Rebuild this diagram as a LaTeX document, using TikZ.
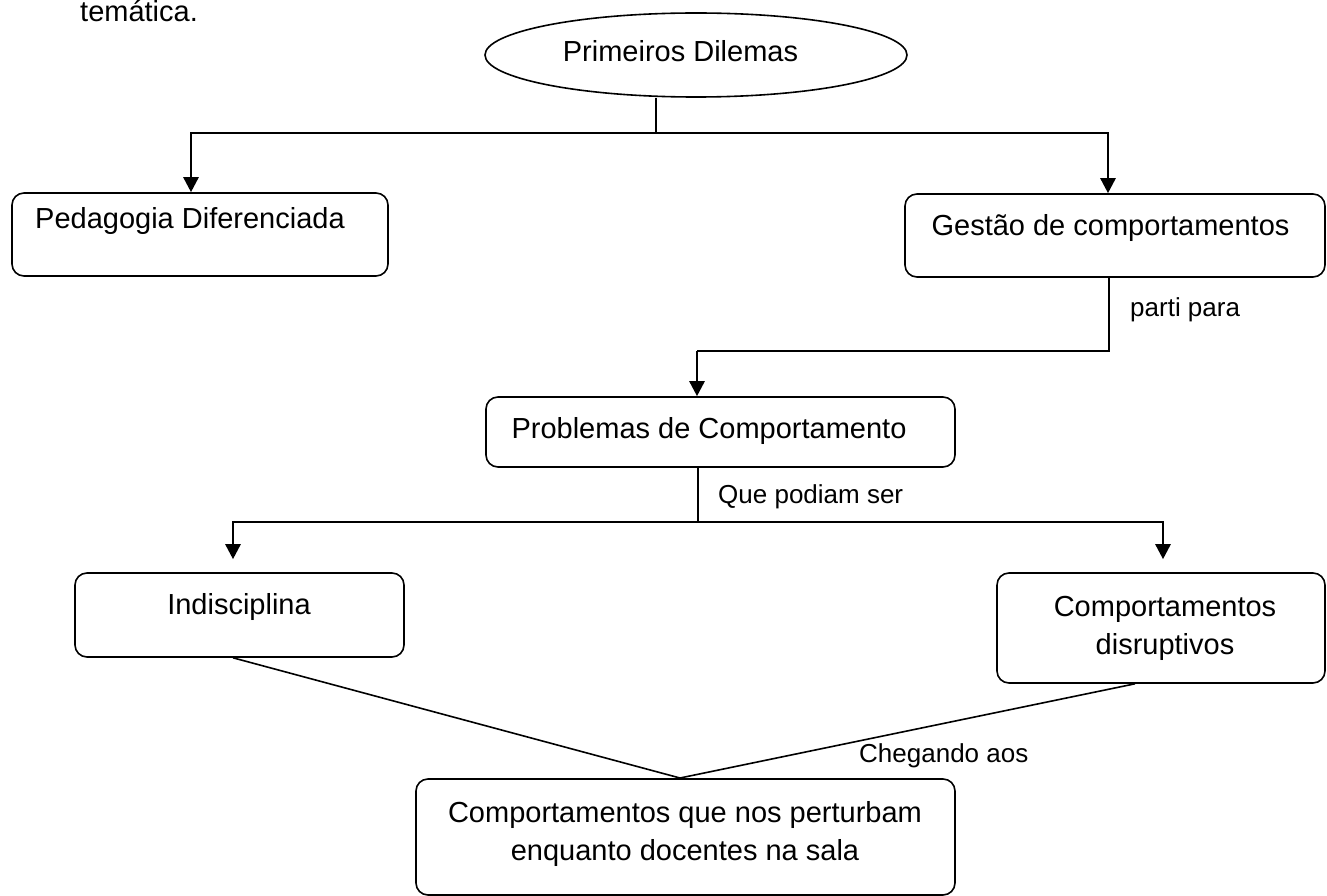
\documentclass[tikz,border=0pt]{standalone}
\usepackage{fontspec}
\setmainfont{Liberation Sans}
\usepackage{tikz}
\usetikzlibrary{shapes,arrows.meta}

\begin{document}
\begin{tikzpicture}[x=1pt,y=-1pt]
			\tikzstyle{b} = [draw, line width=1.6pt, rounded corners=12pt, inner sep=0pt]
			\tikzstyle{t} = [inner sep=0pt, font=\fontsize{29}{38}\selectfont, align=center]
			\tikzstyle{lab} = [inner sep=0pt, font=\fontsize{26}{30}\selectfont]
			\tikzstyle{ln} = [line width=1.6pt]
			\tikzstyle{arr} = [line width=2.6pt, -{Triangle[length=15pt,width=15pt]}]
			\useasboundingbox (0,0) rectangle (1327,896);

			\node [t,anchor=base west] (tem) at (80,22) {temática.};

			\node [draw, line width=1.6pt, ellipse, inner sep=0pt, minimum width=422, minimum height=84] (dil) at (696,55) {};
			\node [t,anchor=base] (dilt) at (680.5,62) {Primeiros Dilemas};

			\node [b, minimum width=376, minimum height=83] (ped) at (200,234.5) {};
			\node [t,anchor=base] (pedt) at (190,228) {Pedagogia Diferenciada};
			\node [b, minimum width=420, minimum height=83] (gest) at (1115,235.5) {};
			\node [t,anchor=base] (gestt) at (1110.5,235) {Gestão de comportamentos};

			\node [b, minimum width=469, minimum height=70] (prob) at (720.5,432) {};
			\node [t,anchor=base] (probt) at (709,438) {Problemas de Comportamento};

			\node [b, minimum width=329, minimum height=84] (ind) at (239.5,615) {};
			\node [t,anchor=base] (indt) at (239,614) {Indisciplina};
			\node [b, minimum width=328, minimum height=110] (disr) at (1161,628) {};
			\node [t] (disrt) at (1165,628) {Comportamentos\\disruptivos};

			\node [b, minimum width=539, minimum height=116] (comp) at (685.5,837) {};
			\node [t] (compt) at (685,834) {Comportamentos que nos perturbam\\enquanto docentes na sala};

			\coordinate (j1) at (656,133);
			\coordinate (j2) at (697,351);
			\coordinate (j3) at (698,522);
			\coordinate (v) at (680,778);

			\draw [ln] (dil.south -| j1) -- (j1);
			\draw [ln] (j1) -| ([xshift=-9pt]ped.north |- 0,175);
			\draw [ln] (j1) -| ([xshift=-7pt]gest.north |- 0,175);
			\draw [arr] ([xshift=-9pt]ped.north |- 0,175) -- ([xshift=-9pt]ped.north);
			\draw [arr] ([xshift=-7pt]gest.north |- 0,175) -- ([xshift=-7pt]gest.north);

			\draw [ln] ([xshift=-6pt]gest.south) |- (j2);
			\draw [arr] (j2) -- (prob.north -| j2);
			\node [lab,anchor=base west] (l1) at (1130,316) {parti para};

			\draw [ln] (prob.south -| j3) -- (j3);
			\draw [ln] (j3) -| ([xshift=-6.5pt]ind.north |- 0,540);
			\draw [ln] (j3) -| ([xshift=2pt]disr.north |- 0,540);
			\draw [arr] ([xshift=-6.5pt]ind.north |- 0,540) -- ([xshift=-6.5pt,yshift=13pt]ind.north);
			\draw [arr] ([xshift=2pt]disr.north |- 0,540) -- ([xshift=2pt,yshift=13pt]disr.north);
			\node [lab,anchor=base west] (l2) at (718,503) {Que podiam ser};

			\draw [ln] ([xshift=-6.5pt]ind.south) -- (v);
			\draw [ln] ([xshift=-26pt]disr.south) -- (v);
			\node [lab,anchor=base west] (l3) at (859,762) {Chegando aos};

		\end{tikzpicture}
\end{document}
